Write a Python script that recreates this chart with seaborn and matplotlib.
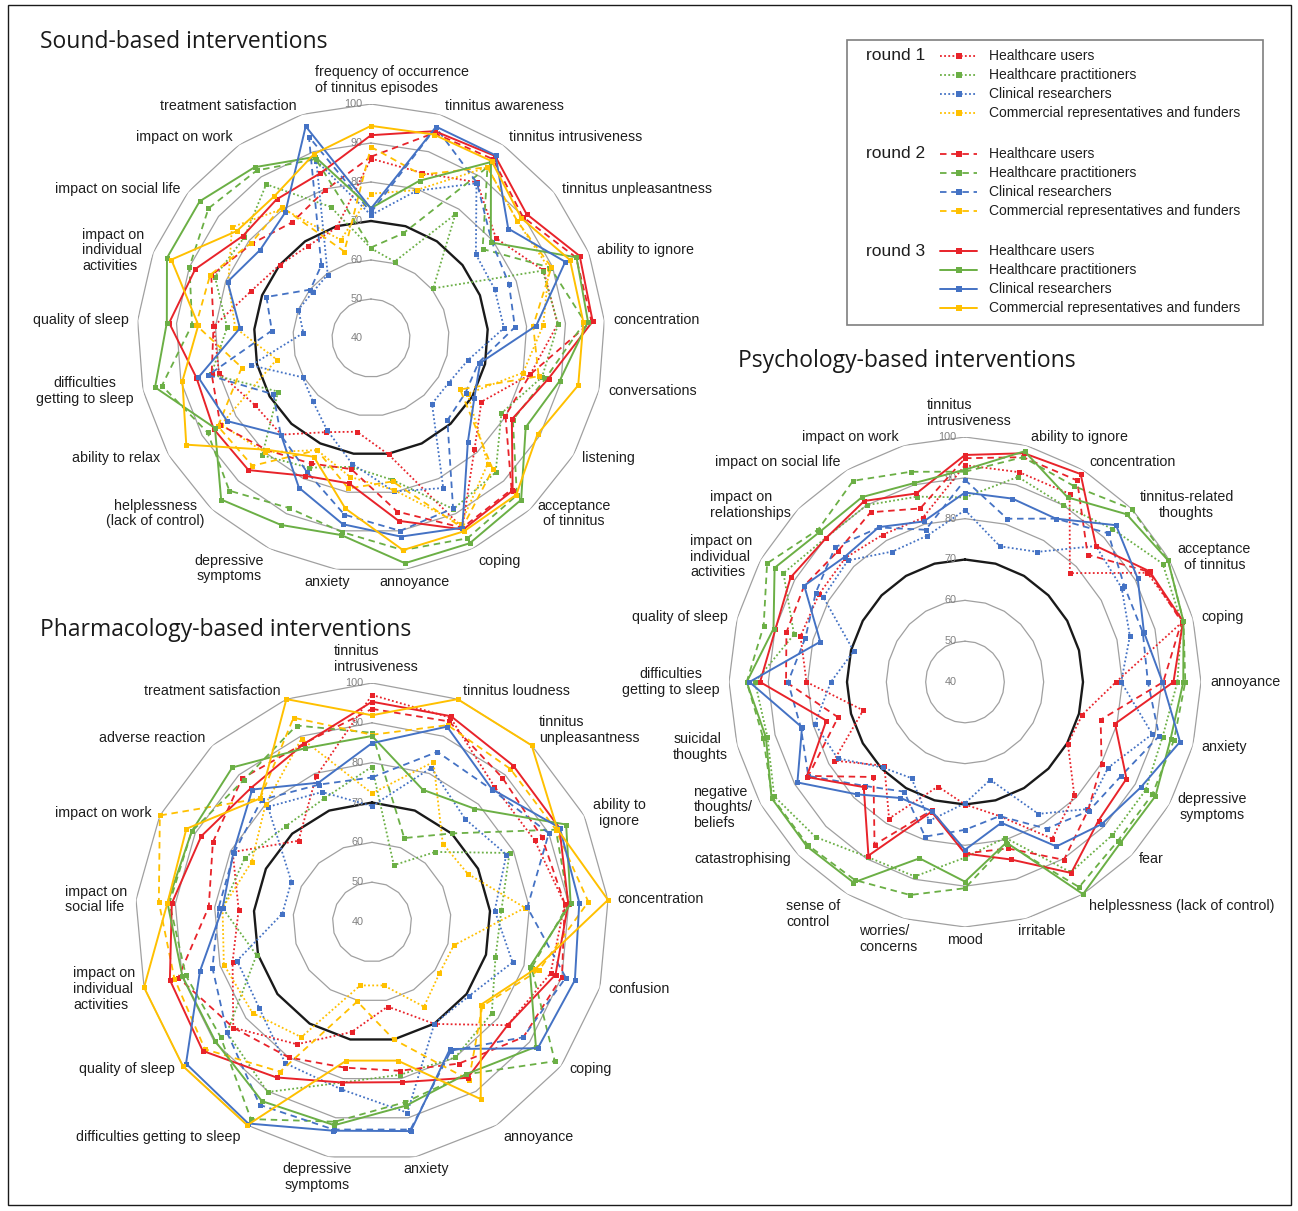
import numpy as np
import matplotlib
matplotlib.use("Agg")
import matplotlib.pyplot as plt
import seaborn as sns
from matplotlib.patches import Rectangle

sns.set_theme(style="white")
plt.rcParams['font.family'] = ['Liberation Sans', 'DejaVu Sans']

W, H = 1298, 1211

# ---------------- data ----------------
groups = ["Healthcare users", "Healthcare practitioners", "Clinical researchers",
          "Commercial representatives and funders"]
group_colors = ["#E8232A", "#6BAF45", "#4472C4", "#FFC000"]
round_names = ["round 1", "round 2", "round 3"]
ring_values = [50, 60, 70, 80, 90, 100]
ring_labels = ["40", "50", "60", "70", "80", "90", "100"]

sound_categories = ["frequency of occurrence\nof tinnitus episodes", "tinnitus awareness",
                    "tinnitus intrusiveness", "tinnitus unpleasantness", "ability to ignore",
                    "concentration", "conversations", "listening", "acceptance\nof tinnitus",
                    "coping", "annoyance", "anxiety", "depressive\nsymptoms",
                    "helplessness\n(lack of control)", "ability to relax",
                    "difficulties\ngetting to sleep", "quality of sleep",
                    "impact on\nindividual\nactivities", "impact on social life",
                    "impact on work", "treatment satisfaction"]
sound_r1_users = [86, 84.3, 88.3, 81, 87.5, 88, 81.9, 72.7, 79, 94, 70.2, 64.3, 66.8, 73.8, 74.4, 80, 80.4, 73, 70, 68.6, 69.7]
sound_r1_pract = [63, 60.5, 78.4, 60.4, 87.3, 88.1, 85, 78.6, 87, 88.7, 76.8, 73.4, 76.9, 81, 67.5, 82, 77, 83, 81.5, 87.7, 75.2]
sound_r1_clin = [71.5, 79.5, 88, 74.4, 74.1, 74.2, 65.5, 63, 63, 82.7, 79.8, 72.6, 66.1, 62, 60.2, 71.5, 57.4, 60, 59, 59.7, 87.6]
sound_r1_comm = [77, 79.7, 93, 88, 89, 84.3, 80, 68.6, 84, 93, 79.4, 76, 71.9, 80, 84.4, 64.8, 74.9, 79.3, 85.6, 80.1, 66.3]
sound_r2_users = [86.5, 95, 95.5, 89.8, 96.5, 96.7, 81.9, 79.8, 93, 94, 85, 74, 75.7, 79.2, 84.6, 81.9, 80.5, 84, 78.9, 75.9, 79.7]
sound_r2_pract = [63.2, 68.1, 93, 76.6, 89.4, 95, 86, 82, 95, 97, 95, 90.3, 88.4, 93.4, 88.4, 95, 86, 90, 93.3, 92, 88]
sound_r2_clin = [72.2, 96.5, 88.2, 79.6, 78, 77, 68.3, 68, 68.8, 88.5, 90, 85.8, 78, 74, 68.9, 82.8, 65.5, 68.8, 59.9, 62.6, 94]
sound_r2_comm = [89, 83.8, 93, 88, 89.7, 81.7, 84.1, 66.4, 85.9, 94, 77.2, 79, 71.9, 84.7, 85.3, 74, 85, 84.3, 79.2, 80.7, 63.2]
sound_r3_users = [92, 95.5, 96.5, 91, 97.5, 97, 86.7, 81.7, 93.4, 94.5, 87.4, 77.7, 79.2, 86.2, 86.6, 85.9, 91.9, 88.4, 82, 83, 84.2]
sound_r3_pract = [73.3, 82.2, 94.6, 79.3, 96.6, 95.8, 89.6, 85.8, 96.6, 98.4, 98.4, 91.1, 93.2, 96.5, 86.2, 96.8, 92.5, 96.2, 96.2, 93, 88.6]
sound_r3_clin = [73.2, 96.7, 96.7, 85, 93.5, 82.5, 68.7, 70.6, 76.5, 94, 91.5, 88.3, 82.6, 73.9, 82.6, 85.4, 73.7, 79.5, 76.3, 79, 96.8]
sound_r3_comm = [94.4, 94.6, 94.9, 89.3, 94.8, 94.6, 94.5, 89.3, 94.8, 95, 95, 84.2, 73.8, 79.1, 94.7, 89.6, 84.4, 95, 84, 84, 89.4]

psych_categories = ["tinnitus\nintrusiveness", "ability to ignore", "concentration",
                    "tinnitus-related\nthoughts", "acceptance\nof tinnitus", "coping", "annoyance",
                    "anxiety", "depressive\nsymptoms", "fear", "helplessness (lack of control)",
                    "irritable", "mood", "worries/\nconcerns", "sense of\ncontrol", "catastrophising",
                    "negative\nthoughts/\nbeliefs", "suicidal\nthoughts",
                    "difficulties\ngetting to sleep", "quality of sleep",
                    "impact on\nindividual\nactivities", "impact on\nrelationships",
                    "impact on social life", "impact on work"]
psych_r1_users = [93.1, 93.2, 93.2, 77.7, 93.5, 97.4, 78.4, 70.9, 70.2, 79.3, 84.3, 74, 70, 66.5, 78.6, 69, 78.5, 66.8, 80.3, 83.3, 82.9, 83, 81.7, 81.6]
psych_r1_pract = [85.2, 92, 90, 93, 98, 97, 94, 92, 93, 93, 93.8, 79.5, 83, 89.3, 89.5, 93.7, 96, 92, 93.4, 85, 93.3, 90, 90, 87]
psych_r1_clin = [82.1, 74.4, 76.8, 87.1, 86, 83.4, 79.7, 89.3, 82, 84, 77.3, 64.8, 69.7, 75.2, 67.2, 69.6, 77.4, 79.5, 74.1, 69.3, 81.6, 82.1, 76.9, 77.1]
psych_r2_users = [94.8, 97, 97, 84.1, 94, 97, 90.4, 75.7, 80.1, 84.3, 90.3, 82.2, 82, 72.5, 86, 72.9, 86, 73.4, 85.5, 87, 87.2, 85.5, 88, 84]
psych_r2_pract = [91.5, 97, 95.4, 99.9, 99.6, 97.5, 96, 95, 95, 95, 98, 81, 90.5, 94, 96, 96.5, 96.6, 93.1, 95.5, 93, 98.1, 92.8, 96.9, 93.3]
psych_r2_clin = [89.5, 81.4, 86.2, 91.5, 86.8, 86.8, 86.5, 91.1, 85.9, 84.6, 81.5, 74, 76.2, 79.2, 71, 76, 86, 83.2, 85, 82, 83.8, 86.7, 83.7, 78.6]
psych_r3_users = [95.6, 98, 98.8, 87.1, 94.2, 97.4, 93, 79.5, 87.4, 88, 94, 85, 82, 72.9, 89.1, 76.4, 86.5, 76.5, 92.1, 89.9, 91.2, 89.9, 91.2, 87.8]
psych_r3_pract = [92, 98.5, 92.2, 98.1, 99.6, 97.5, 95.5, 94.1, 95.9, 95.8, 100, 80.7, 88.9, 84.7, 96.7, 96.9, 96.8, 92.4, 95.5, 90.4, 95.9, 92.1, 92.3, 90.4]
psych_r3_clin = [86.4, 86.5, 86.2, 94.3, 90.7, 87.1, 90.2, 96.6, 91.6, 89.2, 86.5, 75.7, 81.1, 72.7, 72.8, 78.9, 89.2, 82.9, 94.8, 78.1, 87.2, 83.3, 83.8, 80.7]

pharm_categories = ["tinnitus\nintrusiveness", "tinnitus loudness", "tinnitus\nunpleasantness",
                    "ability to\nignore", "concentration", "confusion", "coping", "annoyance",
                    "anxiety", "depressive\nsymptoms", "difficulties getting to sleep",
                    "quality of sleep", "impact on\nindividual\nactivities", "impact on\nsocial life",
                    "impact on work", "adverse reaction", "treatment satisfaction"]
pharm_r1_users = [97, 95, 86, 86, 89, 87, 83, 70.1, 61.6, 68.1, 76.1, 84, 76.7, 73.9, 79.4, 67.6, 79.2]
pharm_r1_pract = [79, 55.3, 63.8, 78.9, 72.9, 72.5, 78, 80, 79, 81, 90.2, 86, 70.4, 78, 76, 72.5, 73.3]
pharm_r1_clin = [69.1, 81.5, 75, 78, 71.2, 77, 70.8, 70, 88.7, 82.7, 81.7, 75.8, 75.5, 62.8, 62.8, 79.1, 75]
pharm_r1_comm = [72.3, 83.1, 66.6, 67.1, 78.9, 61.5, 61.4, 65, 56.2, 56.2, 74, 77.9, 79, 78, 74, 80, 89.4]
pharm_r2_users = [93.5, 94, 89, 88, 89, 90, 88, 81.8, 78, 77.2, 80, 84, 91, 81.5, 85, 88.8, 88]
pharm_r2_pract = [87.5, 62.6, 70.1, 92, 90, 82, 98, 85, 86, 91, 98.2, 88, 89, 91.5, 91, 88.2, 92.9]
pharm_r2_clin = [76.3, 85.8, 85, 90, 79.5, 91, 88, 78, 93, 93, 94, 86, 82, 79, 79, 81.5, 77]
pharm_r2_comm = [87, 93, 92, 92, 95, 84, 75, 86.6, 70, 60.3, 84.2, 93, 92, 94.2, 100, 82, 95]
pharm_r3_users = [95.3, 95.4, 93.1, 93, 89.9, 88.3, 83, 86, 80.9, 81, 85.9, 93.7, 93.2, 90.9, 88.3, 85.5, 87.9]
pharm_r3_pract = [86.7, 75.6, 78.5, 94.9, 90.5, 81.5, 92, 85, 86.9, 91.9, 92.9, 89.7, 89.9, 92, 91, 92.5, 86.8]
pharm_r3_clin = [84.9, 92.6, 85.1, 93.1, 92.7, 93.4, 92.6, 77.5, 93.4, 93.3, 99.5, 99, 85.3, 78, 79.2, 85, 77.5]
pharm_r3_comm = [91.9, 100, 100, 92.4, 100, 83, 74.5, 92.3, 75.4, 75.4, 100, 100, 100, 92, 92.5, 82, 100]

# ---------------- styles ----------------
round_styles = [(0, (1, 1.3)), (0, (3.6, 2.6)), "-"]
round_widths = [1.3, 1.3, 1.4]
center_multi = {"difficulties\ngetting to sleep", "helplessness\n(lack of control)",
                "depressive\nsymptoms", "acceptance\nof tinnitus", "tinnitus-related\nthoughts",
                "ability to\nignore"}
label_nudge_px = {"frequency of occurrence\nof tinnitus episodes": (21, 8),
                  "tinnitus\nintrusiveness": (4, 8)}

fig = plt.figure(figsize=(W / 100, H / 100), dpi=100)
fig.patch.set_facecolor("white")


def make_radar(cx, cy, rx, ry):
    ax = fig.add_axes([(cx - rx) / W, 1 - (cy + ry) / H, 2 * rx / W, 2 * ry / H],
                      projection="polar")
    ax.set_theta_zero_location("N")
    ax.set_theta_direction(-1)
    ax.set_aspect("auto")
    ax.grid(False)
    ax.spines["polar"].set_visible(False)
    ax.set_xticks([])
    ax.set_yticks([])
    ax.set_facecolor("none")
    return ax


def draw_grid(ax, n):
    th = np.linspace(0, 2 * np.pi, n + 1)
    for v in ring_values:
        if v == 70:
            ax.plot(th, [v] * (n + 1), color="#1a1a1a", lw=1.7, zorder=1)
        else:
            ax.plot(th, [v] * (n + 1), color="#a0a0a0", lw=0.9, zorder=1)
    for i, lab in enumerate(ring_labels):
        ax.annotate(lab, xy=(0, 40 + 10 * i), xytext=(-6, 0), textcoords="offset points",
                    ha="right", va="center", fontsize=7.8, color="#808080",
                    annotation_clip=False, zorder=2)


def draw_labels(ax, cats, pad=4.0):
    n = len(cats)
    for i, lab in enumerate(cats):
        th = 2 * np.pi * i / n
        s, c = np.sin(th), np.cos(th)
        thr = 0.12 if c > 0 else 0.3
        if abs(s) < thr:
            ha, dx = "center", s * 43
        elif s > 0:
            ha, dx = "left", s * pad + 2.5
        else:
            ha, dx = "right", s * pad - 2.5
        if c > 0.72:
            va, dy = "bottom", c * 0.8
        elif c < -0.8:
            va, dy = "top", c * pad
        else:
            va, dy = "center", c * pad
        nx, ny = label_nudge_px.get(lab, (0, 0))
        ma = "center" if lab in center_multi else "left"
        ax.annotate(lab, xy=(th, 100), xytext=(dx + nx * 0.72, dy + ny * 0.72),
                    textcoords="offset points", ha=ha, va=va, multialignment=ma,
                    fontsize=10.3, color="#1e1e1e", annotation_clip=False,
                    linespacing=1.15)


def draw_series(ax, series_by_round):
    for r, series in enumerate(series_by_round):
        for g, vals in enumerate(series):
            if vals is None:
                continue
            n = len(vals)
            th = np.linspace(0, 2 * np.pi, n + 1)
            v = list(vals) + [vals[0]]
            sns.lineplot(x=th, y=v, ax=ax, sort=False, estimator=None, legend=False,
                         color=group_colors[g], linestyle=round_styles[r],
                         linewidth=round_widths[r], marker="s", markersize=3.6,
                         markeredgewidth=0, zorder=3 + r, clip_on=False)
    ax.set_ylim(40, 100)
    ax.set_xlabel("")
    ax.set_ylabel("")
    ax.set_xticks([])
    ax.set_yticks([])


# Sound-based
ax_s = make_radar(371, 338, 234, 234)
draw_grid(ax_s, len(sound_categories))
draw_series(ax_s, [
    [sound_r1_users, sound_r1_pract, sound_r1_clin, sound_r1_comm],
    [sound_r2_users, sound_r2_pract, sound_r2_clin, sound_r2_comm],
    [sound_r3_users, sound_r3_pract, sound_r3_clin, sound_r3_comm]])
draw_labels(ax_s, sound_categories)

# Psychology-based
ax_p = make_radar(965, 682, 236, 245)
draw_grid(ax_p, len(psych_categories))
draw_series(ax_p, [
    [psych_r1_users, psych_r1_pract, psych_r1_clin, None],
    [psych_r2_users, psych_r2_pract, psych_r2_clin, None],
    [psych_r3_users, psych_r3_pract, psych_r3_clin, None]])
draw_labels(ax_p, psych_categories)

# Pharmacology-based
ax_f = make_radar(372, 922, 237, 239)
draw_grid(ax_f, len(pharm_categories))
draw_series(ax_f, [
    [pharm_r1_users, pharm_r1_pract, pharm_r1_clin, pharm_r1_comm],
    [pharm_r2_users, pharm_r2_pract, pharm_r2_clin, pharm_r2_comm],
    [pharm_r3_users, pharm_r3_pract, pharm_r3_clin, pharm_r3_comm]])
draw_labels(ax_f, pharm_categories)

# ---------------- overlay: titles, legend, border ----------------
ov = fig.add_axes([0, 0, 1, 1])
ov.set_xlim(0, W)
ov.set_ylim(H, 0)
ov.axis("off")
ov.patch.set_alpha(0)

title_font = ["Open Sans", "DejaVu Sans"]
ov.text(40, 42, "Sound-based interventions", fontsize=16.5, family=title_font,
        ha="left", va="center", color="#1a1a1a")
ov.text(738, 361, "Psychology-based interventions", fontsize=16.5, family=title_font,
        ha="left", va="center", color="#1a1a1a")
ov.text(40, 630, "Pharmacology-based interventions", fontsize=16.5, family=title_font,
        ha="left", va="center", color="#1a1a1a")

ov.add_patch(Rectangle((847, 40), 416, 285, fill=False, edgecolor="#7f7f7f", lw=1.2))
legend_tops = [56, 154, 251]
for r in range(3):
    y0 = legend_tops[r]
    ov.text(866, y0, round_names[r], fontsize=12.5, ha="left", va="center", color="#1e1e1e")
    for g in range(4):
        y = y0 + 19 * g
        ov.plot([940, 977], [y, y], color=group_colors[g], linestyle=round_styles[r],
                lw=round_widths[r])
        ov.plot([958.5], [y], marker="s", markersize=4.5, color=group_colors[g],
                markeredgewidth=0)
        ov.text(989, y, groups[g], fontsize=10, ha="left", va="center", color="#1e1e1e")

ov.add_patch(Rectangle((8, 5), 1283, 1200, fill=False, edgecolor="#1a1a1a", lw=1.0))

fig.savefig("out.png", dpi=100, facecolor="white")
